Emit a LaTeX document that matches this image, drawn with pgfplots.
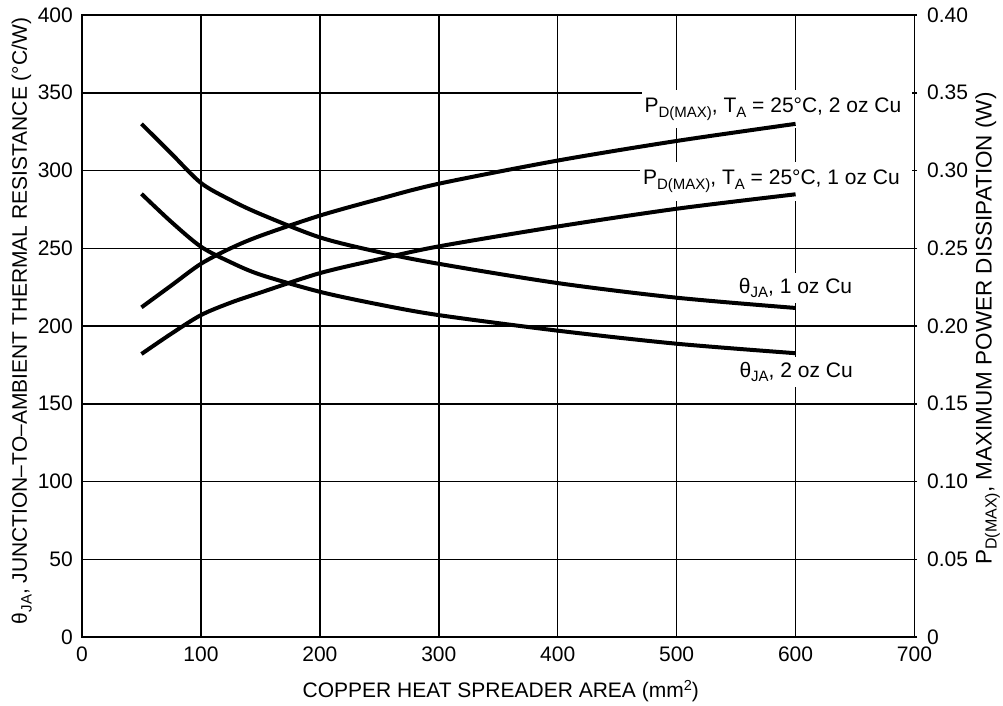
\documentclass[border=0pt]{standalone}
\usepackage{pgfplots}
\pgfplotsset{compat=1.18}
\usepackage{fontspec}
\setmainfont{Liberation Sans}
\newcommand\sub[1]{\raisebox{-4.7pt}{\fontsize{15}{15}\selectfont #1}}
\newcommand\sups[1]{\raisebox{6.5pt}{\fontsize{14.5}{14.5}\selectfont #1}}
\newcommand\bigfont{\fontsize{21}{25}\selectfont}
\newcommand\rlfont{\fontsize{22.5}{26}\selectfont}
\newcommand\rsub[1]{\raisebox{-5pt}{\fontsize{16}{16}\selectfont #1}}

\pgfplotstableread{
x y
50 330
75 311
100 292
125 281
150 272
200 257
250 247.5
300 240
400 227.6
500 218.2
600 211.6
}\thetaone
\pgfplotstableread{
x y
50 285
75 267
100 251
125 241
150 233
200 222
250 213.8
300 207
400 197
500 188.6
600 182.5
}\thetatwo
\pgfplotstableread{
x y
50 0.212
75 0.226
100 0.240
125 0.250
150 0.258
200 0.271
250 0.2817
300 0.2915
400 0.3064
500 0.319
600 0.330
}\pdtwo
\pgfplotstableread{
x y
50 0.182
75 0.195
100 0.207
125 0.215
150 0.2215
200 0.234
250 0.2430
300 0.2512
400 0.264
500 0.2754
600 0.2847
}\pdone

\begin{document}
\bigfont
\begin{tikzpicture}[x=1pt,y=1pt]
\path[use as bounding box] (-82,-68) rectangle (921,637);
\begin{axis}[
  at={(0,0)}, anchor=south west,
  width=832.5pt, height=622pt, scale only axis,
  xmin=0, xmax=700, ymin=0, ymax=400,
  xtick={0,100,...,700}, ytick={0,50,...,400},
  grid=major, major grid style={line width=1.5pt, black},
  major tick length=0pt,
  axis line style={line width=1.5pt},
  /pgf/number format/assume math mode=true,
  tick label style={font=\bigfont},
  label style={font=\bigfont},
  xticklabel style={yshift=-3pt},
  yticklabel style={xshift=-2pt},
  xlabel={COPPER HEAT SPREADER AREA (mm\sups{2})},
  xlabel style={at={(axis description cs:0.503,-0.0965)}, anchor=base},
  ylabel={θ\sub{JA}, JUNCTION–TO–AMBIENT THERMAL RESISTANCE (°C/W)},
  ylabel style={at={(axis description cs:-0.0661,0.508)}, anchor=base, rotate=0},
]
\node[fill=white, inner xsep=3pt, inner ysep=8pt, anchor=base east, font=\bigfont]
  at (axis cs:700,337.2) {P\sub{D(MAX)}, T\sub{A} = 25°C, 2 oz Cu\hspace*{10pt}};
\node[fill=white, inner xsep=3pt, inner ysep=8pt, anchor=base east, font=\bigfont]
  at (axis cs:700,290.7) {P\sub{D(MAX)}, T\sub{A} = 25°C, 1 oz Cu\hspace*{11.5pt}};
\node[fill=white, inner xsep=3pt, inner ysep=5pt, anchor=base, font=\bigfont]
  at (axis cs:600,221.1) {θ\sub{JA}, 1 oz Cu};
\node[fill=white, inner xsep=3pt, inner ysep=5pt, anchor=base, font=\bigfont]
  at (axis cs:600.5,167.1) {θ\sub{JA}, 2 oz Cu};
\addplot[black, line width=4pt, smooth, tension=0.5] table[x=x,y=y] {\thetaone};
\addplot[black, line width=4pt, smooth, tension=0.5] table[x=x,y=y] {\thetatwo};
\draw[line width=3pt, line cap=rect] (rel axis cs:0,1) -- (rel axis cs:0,0) -- (rel axis cs:1,0);
\end{axis}
\begin{axis}[
  at={(0,0)}, anchor=south west,
  width=832.5pt, height=622pt, scale only axis,
  xmin=0, xmax=700, ymin=0, ymax=0.4,
  axis x line=none, axis y line*=right,
  axis line style={line width=1.5pt, -},
  ytick={0,0.05,0.1,0.15,0.2,0.25,0.3,0.35,0.4},
  yticklabels={0,0.05,0.10,0.15,0.20,0.25,0.30,0.35,0.40},
  tick align=center, major tick length=5pt,
  tick style={line width=1.5pt, black},
  tick label style={font=\bigfont},
  label style={font=\rlfont},
  yticklabel style={xshift=3pt},
  ylabel={P\rsub{D(MAX)}, MAXIMUM POWER DISSIPATION (W)},
  ylabel style={at={(axis description cs:1.0927,0.496)}, anchor=base, rotate=0},
]
\addplot[black, line width=4pt, smooth, tension=0.5] table[x=x,y=y] {\pdtwo};
\addplot[black, line width=4pt, smooth, tension=0.5] table[x=x,y=y] {\pdone};
\end{axis}
\end{tikzpicture}
\end{document}
